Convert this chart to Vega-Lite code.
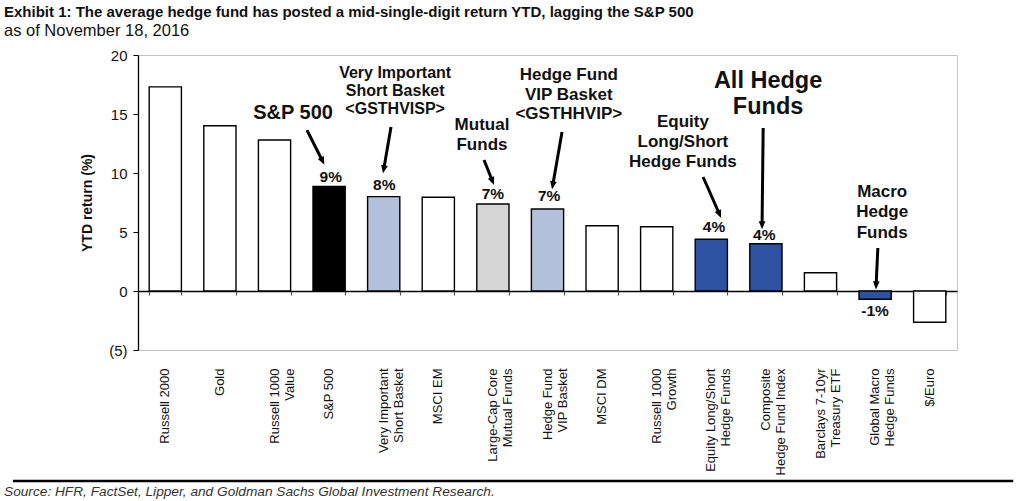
{
  "$schema": "https://vega.github.io/schema/vega-lite/v6.json",
  "width": 819,
  "height": 295,
  "autosize": {"type": "none"},
  "padding": {"left": 138, "top": 55, "right": 67, "bottom": 151},
  "background": "white",
  "config": {
    "font": "Liberation Sans",
    "view": {"stroke": "#c4c4c4", "strokeWidth": 1}
  },
  "title": {
    "text": "Exhibit 1: The average hedge fund has posted a mid-single-digit return YTD, lagging the S&P 500",
    "subtitle": "as of November 18, 2016",
    "anchor": "start",
    "frame": "group",
    "dx": -134,
    "offset": 9,
    "font": "Liberation Sans",
    "fontSize": 15,
    "fontWeight": "bold",
    "color": "#111",
    "subtitleFont": "Liberation Sans",
    "subtitleFontSize": 16.5,
    "subtitleColor": "#111",
    "subtitlePadding": 3
  },
  "datasets": {
    "bars": [
      {"name": "Russell 2000", "value": 17.3, "group": "Benchmark"},
      {"name": "Gold", "value": 14.0, "group": "Benchmark"},
      {"name": "Russell 1000\nValue", "value": 12.8, "group": "Benchmark"},
      {"name": "S&P 500", "value": 8.87, "group": "S&P 500"},
      {"name": "Very Important\nShort Basket", "value": 8.0, "group": "GS Basket"},
      {"name": "MSCI EM", "value": 7.95, "group": "Benchmark"},
      {"name": "Large-Cap Core\nMutual Funds", "value": 7.37, "group": "Mutual Funds"},
      {"name": "Hedge Fund\nVIP Basket", "value": 6.95, "group": "GS Basket"},
      {"name": "MSCI DM", "value": 5.53, "group": "Benchmark"},
      {"name": "Russell 1000\nGrowth", "value": 5.45, "group": "Benchmark"},
      {"name": "Equity Long/Short\nHedge Funds", "value": 4.38, "group": "Hedge Funds"},
      {"name": "Composite\nHedge Fund Index", "value": 4.0, "group": "Hedge Funds"},
      {"name": "Barclays 7-10yr\nTreasury ETF", "value": 1.55, "group": "Benchmark"},
      {"name": "Global Macro\nHedge Funds", "value": -0.7, "group": "Hedge Funds"},
      {"name": "$/Euro", "value": -2.65, "group": "Benchmark"}
    ],
    "notes": [
      {"text": "S&P 500", "pos": 2.84, "val": 15.08, "kind": "big"},
      {"text": "9%", "pos": 3.53, "val": 9.66, "kind": "pct"},
      {"text": "Very Important", "pos": 4.71, "val": 18.47, "kind": "small"},
      {"text": "Short Basket", "pos": 4.71, "val": 16.95, "kind": "small"},
      {"text": "<GSTHVISP>", "pos": 4.71, "val": 15.42, "kind": "small"},
      {"text": "8%", "pos": 4.51, "val": 8.98, "kind": "pct"},
      {"text": "Mutual", "pos": 6.3, "val": 14.07, "kind": "mid"},
      {"text": "Funds", "pos": 6.3, "val": 12.37, "kind": "mid"},
      {"text": "7%", "pos": 6.5, "val": 8.22, "kind": "pct"},
      {"text": "Hedge Fund", "pos": 7.89, "val": 18.31, "kind": "mid"},
      {"text": "VIP Basket", "pos": 7.89, "val": 16.61, "kind": "mid"},
      {"text": "<GSTHHVIP>", "pos": 7.89, "val": 15.0, "kind": "mid"},
      {"text": "7%", "pos": 7.53, "val": 8.05, "kind": "pct"},
      {"text": "Equity", "pos": 9.98, "val": 14.32, "kind": "mid"},
      {"text": "Long/Short", "pos": 9.98, "val": 12.63, "kind": "mid"},
      {"text": "Hedge Funds", "pos": 9.98, "val": 10.93, "kind": "mid"},
      {"text": "4%", "pos": 10.55, "val": 5.42, "kind": "pct"},
      {"text": "All Hedge", "pos": 11.54, "val": 17.8, "kind": "huge"},
      {"text": "Funds", "pos": 11.54, "val": 15.59, "kind": "huge"},
      {"text": "4%", "pos": 11.47, "val": 4.75, "kind": "pct"},
      {"text": "Macro", "pos": 13.63, "val": 8.39, "kind": "mid"},
      {"text": "Hedge", "pos": 13.63, "val": 6.69, "kind": "mid"},
      {"text": "Funds", "pos": 13.63, "val": 4.92, "kind": "mid"},
      {"text": "-1%", "pos": 13.5, "val": -1.69, "kind": "pct"}
    ],
    "arrows": [
      {"x1": 3.095, "y1": 13.64, "x2": 3.37, "y2": 11.1},
      {"x1": 4.634, "y1": 13.9, "x2": 4.505, "y2": 10.42},
      {"x1": 6.337, "y1": 11.1, "x2": 6.484, "y2": 9.41},
      {"x1": 7.766, "y1": 13.47, "x2": 7.6, "y2": 9.07},
      {"x1": 10.35, "y1": 9.66, "x2": 10.64, "y2": 6.61},
      {"x1": 11.45, "y1": 13.81, "x2": 11.43, "y2": 5.68},
      {"x1": 13.55, "y1": 3.64, "x2": 13.52, "y2": 0.59}
    ],
    "source": [
      {"text": "Source: HFR, FactSet, Lipper, and Goldman Sachs Global Investment Research.", "pos": -2.454, "val": -17.03, "x1": -2.29, "x2": 16.03, "y1": -16.1}
    ]
  },
  "layer": [
    {
      "data": {"name": "bars"},
      "mark": {"type": "bar", "stroke": "#000", "strokeWidth": 1.4},
      "encoding": {
        "x": {
          "field": "name",
          "type": "nominal",
          "sort": null,
          "scale": {"paddingInner": 0.41, "paddingOuter": 0.205},
          "axis": {
            "title": null,
            "orient": "bottom",
            "offset": -59,
            "domainColor": "#000",
            "domainWidth": 1.3,
            "ticks": false,
            "labelAngle": -90,
            "labelAlign": "right",
            "labelBaseline": "middle",
            "labelPadding": 77,
            "labelFont": "Liberation Sans",
            "labelFontSize": 13,
            "labelLineHeight": 15,
            "labelColor": "#111",
            "labelExpr": "split(datum.value, '\\n')",
            "labelLimit": 0
          }
        },
        "y": {
          "field": "value",
          "type": "quantitative",
          "scale": {"domain": [-5, 20], "nice": false, "zero": false},
          "axis": {
            "title": "YTD return (%)",
            "titleFont": "Liberation Sans",
            "titleFontSize": 14,
            "titleFontWeight": "bold",
            "titleColor": "#111",
            "titlePadding": 14,
            "values": [-5, 0, 5, 10, 15, 20],
            "labelExpr": "datum.value < 0 ? '(' + abs(datum.value) + ')' : datum.value",
            "labelFont": "Liberation Sans",
            "labelFontSize": 15,
            "labelColor": "#111",
            "labelPadding": 6,
            "domainColor": "#000",
            "domainWidth": 1.3,
            "tickColor": "#000",
            "tickSize": 5,
            "grid": false
          }
        },
        "fill": {
          "field": "group",
          "type": "nominal",
          "scale": {
            "domain": ["Benchmark", "S&P 500", "GS Basket", "Mutual Funds", "Hedge Funds"],
            "range": ["#ffffff", "#000000", "#b3c0dc", "#d6d6d6", "#2e52a2"]
          },
          "legend": null
        }
      }
    },
    {
      "data": {"name": "bars"},
      "mark": {"type": "tick", "opacity": 0},
      "encoding": {
        "x": {
          "field": "name",
          "type": "nominal",
          "sort": null,
          "scale": {"paddingInner": 0.41, "paddingOuter": 0.205},
          "axis": {
            "title": null,
            "orient": "bottom",
            "offset": -59,
            "domain": false,
            "labels": false,
            "ticks": true,
            "tickBand": "extent",
            "tickColor": "#555",
            "tickSize": 4,
            "tickWidth": 1.2
          }
        },
        "y": {"field": "value", "type": "quantitative"}
      }
    },
    {
      "data": {"name": "arrows"},
      "mark": {"type": "rule", "strokeWidth": 3, "color": "#000"},
      "encoding": {
        "x": {"field": "x1", "type": "quantitative", "scale": {"domain": [0, 15], "nice": false, "zero": false}, "axis": null},
        "x2": {"field": "x2"},
        "y": {"field": "y1", "type": "quantitative"},
        "y2": {"field": "y2"}
      }
    },
    {
      "data": {"name": "arrows"},
      "transform": [
        {"calculate": "atan2((datum.x2 - datum.x1) * 54.6, (datum.y2 - datum.y1) * 11.8) * 180 / PI", "as": "ang"}
      ],
      "mark": {"type": "point", "shape": "M0,-1.2L0.75,0.6L-0.75,0.6Z", "filled": true, "color": "#000", "opacity": 1, "size": 80, "strokeWidth": 0},
      "encoding": {
        "x": {"field": "x2", "type": "quantitative", "scale": {"domain": [0, 15], "nice": false, "zero": false}, "axis": null},
        "y": {"field": "y2", "type": "quantitative"},
        "angle": {"field": "ang", "type": "quantitative", "scale": null}
      }
    },
    {
      "data": {"name": "notes"},
      "transform": [{"filter": "datum.kind == 'pct'"}],
      "mark": {"type": "text", "font": "Liberation Sans", "fontWeight": "bold", "fontSize": 15.5, "align": "center", "baseline": "middle", "color": "#111"},
      "encoding": {
        "x": {"field": "pos", "type": "quantitative", "scale": {"domain": [0, 15], "nice": false, "zero": false}, "axis": null},
        "y": {"field": "val", "type": "quantitative"},
        "text": {"field": "text"}
      }
    },
    {
      "data": {"name": "notes"},
      "transform": [{"filter": "datum.kind == 'small'"}],
      "mark": {"type": "text", "font": "Liberation Sans", "fontWeight": "bold", "fontSize": 16, "align": "center", "baseline": "middle", "color": "#111"},
      "encoding": {
        "x": {"field": "pos", "type": "quantitative", "scale": {"domain": [0, 15], "nice": false, "zero": false}, "axis": null},
        "y": {"field": "val", "type": "quantitative"},
        "text": {"field": "text"}
      }
    },
    {
      "data": {"name": "notes"},
      "transform": [{"filter": "datum.kind == 'mid'"}],
      "mark": {"type": "text", "font": "Liberation Sans", "fontWeight": "bold", "fontSize": 17, "align": "center", "baseline": "middle", "color": "#111"},
      "encoding": {
        "x": {"field": "pos", "type": "quantitative", "scale": {"domain": [0, 15], "nice": false, "zero": false}, "axis": null},
        "y": {"field": "val", "type": "quantitative"},
        "text": {"field": "text"}
      }
    },
    {
      "data": {"name": "notes"},
      "transform": [{"filter": "datum.kind == 'big'"}],
      "mark": {"type": "text", "font": "Liberation Sans", "fontWeight": "bold", "fontSize": 20, "align": "center", "baseline": "middle", "color": "#111"},
      "encoding": {
        "x": {"field": "pos", "type": "quantitative", "scale": {"domain": [0, 15], "nice": false, "zero": false}, "axis": null},
        "y": {"field": "val", "type": "quantitative"},
        "text": {"field": "text"}
      }
    },
    {
      "data": {"name": "notes"},
      "transform": [{"filter": "datum.kind == 'huge'"}],
      "mark": {"type": "text", "font": "Liberation Sans", "fontWeight": "bold", "fontSize": 23.5, "align": "center", "baseline": "middle", "color": "#111"},
      "encoding": {
        "x": {"field": "pos", "type": "quantitative", "scale": {"domain": [0, 15], "nice": false, "zero": false}, "axis": null},
        "y": {"field": "val", "type": "quantitative"},
        "text": {"field": "text"}
      }
    },
    {
      "data": {"name": "source"},
      "mark": {"type": "rule", "strokeWidth": 2.5, "color": "#000"},
      "encoding": {
        "x": {"field": "x1", "type": "quantitative", "scale": {"domain": [0, 15], "nice": false, "zero": false}, "axis": null},
        "x2": {"field": "x2"},
        "y": {"field": "y1", "type": "quantitative"}
      }
    },
    {
      "data": {"name": "source"},
      "mark": {"type": "text", "font": "Liberation Sans", "fontStyle": "italic", "fontSize": 13.7, "align": "left", "baseline": "middle", "color": "#333"},
      "encoding": {
        "x": {"field": "pos", "type": "quantitative", "scale": {"domain": [0, 15], "nice": false, "zero": false}, "axis": null},
        "y": {"field": "val", "type": "quantitative"},
        "text": {"field": "text"}
      }
    }
  ],
  "resolve": {"scale": {"x": "independent"}}
}
